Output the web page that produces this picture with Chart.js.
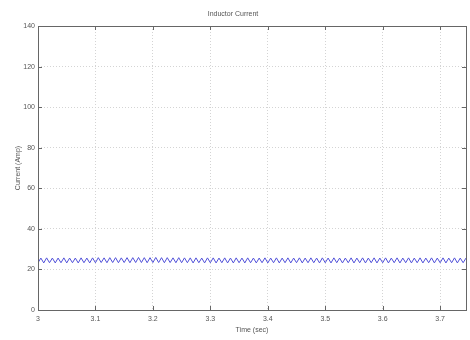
<!DOCTYPE html>
<html>
<head>
<meta charset="utf-8">
<script src="https://cdn.jsdelivr.net/npm/chart.js@4/dist/chart.umd.min.js"></script>
<style>
  html, body { margin: 0; padding: 0; background: #fff; }
  #ctx-current { display: block; }
</style>
</head>
<body>
<canvas id="ctx-current" width="470" height="340"></canvas>
<script>
// time points (sec) of the ripple corners
const times = [
  3.000, 3.005, 3.010, 3.015, 3.020, 3.025, 3.030, 3.035, 3.040, 3.045,
  3.050, 3.055, 3.060, 3.065, 3.070, 3.075, 3.080, 3.085, 3.090, 3.095,
  3.100, 3.105, 3.110, 3.115, 3.120, 3.125, 3.130, 3.135, 3.140, 3.145,
  3.150, 3.155, 3.160, 3.165, 3.170, 3.175, 3.180, 3.185, 3.190, 3.195,
  3.200, 3.205, 3.210, 3.215, 3.220, 3.225, 3.230, 3.235, 3.240, 3.245,
  3.250, 3.255, 3.260, 3.265, 3.270, 3.275, 3.280, 3.285, 3.290, 3.295,
  3.300, 3.305, 3.310, 3.315, 3.320, 3.325, 3.330, 3.335, 3.340, 3.345,
  3.350, 3.355, 3.360, 3.365, 3.370, 3.375, 3.380, 3.385, 3.390, 3.395,
  3.400, 3.405, 3.410, 3.415, 3.420, 3.425, 3.430, 3.435, 3.440, 3.445,
  3.450, 3.455, 3.460, 3.465, 3.470, 3.475, 3.480, 3.485, 3.490, 3.495,
  3.500, 3.505, 3.510, 3.515, 3.520, 3.525, 3.530, 3.535, 3.540, 3.545,
  3.550, 3.555, 3.560, 3.565, 3.570, 3.575, 3.580, 3.585, 3.590, 3.595,
  3.600, 3.605, 3.610, 3.615, 3.620, 3.625, 3.630, 3.635, 3.640, 3.645,
  3.650, 3.655, 3.660, 3.665, 3.670, 3.675, 3.680, 3.685, 3.690, 3.695,
  3.700, 3.705, 3.710, 3.715, 3.720, 3.725, 3.730, 3.735, 3.740, 3.745
];

// inductor current (A)
const current = [
  23.3, 25.6, 23.2, 25.7, 23.3, 25.6, 23.2, 25.6, 23.3, 25.7,
  23.2, 25.6, 23.3, 25.6, 23.2, 25.7, 23.3, 25.6, 23.2, 25.7,
  23.3, 25.8, 23.4, 25.7, 23.3, 25.8, 23.4, 25.8, 23.3, 25.7,
  23.4, 25.8, 23.3, 25.8, 23.4, 25.9, 23.4, 25.8, 23.3, 25.8,
  23.4, 25.9, 23.4, 25.8, 23.3, 25.8, 23.4, 25.7, 23.3, 25.8,
  23.3, 25.7, 23.3, 25.7, 23.2, 25.7, 23.3, 25.6, 23.2, 25.7,
  23.3, 25.7, 23.2, 25.6, 23.3, 25.7, 23.2, 25.6, 23.2, 25.7,
  23.3, 25.6, 23.2, 25.7, 23.3, 25.6, 23.2, 25.6, 23.3, 25.7,
  23.2, 25.6, 23.3, 25.7, 23.2, 25.6, 23.3, 25.7, 23.2, 25.6,
  23.3, 25.7, 23.2, 25.6, 23.3, 25.7, 23.3, 25.6, 23.2, 25.7,
  23.3, 25.6, 23.2, 25.7, 23.3, 25.6, 23.2, 25.6, 23.3, 25.7,
  23.2, 25.6, 23.3, 25.7, 23.2, 25.6, 23.3, 25.7, 23.2, 25.6,
  23.3, 25.7, 23.2, 25.6, 23.3, 25.7, 23.2, 25.6, 23.3, 25.7,
  23.2, 25.6, 23.3, 25.7, 23.2, 25.6, 23.3, 25.7, 23.2, 25.6,
  23.3, 25.7, 23.2, 25.6, 23.3, 25.7, 23.2, 25.6, 23.3, 25.6
];

const xTicks = [3, 3.1, 3.2, 3.3, 3.4, 3.5, 3.6, 3.7];
const yTicks = [0, 20, 40, 60, 80, 100, 120, 140];

const fontSpec = { family: 'Liberation Sans, Arial, sans-serif', size: 7, weight: 'normal' };
const textColor = '#555';

// matlab style box with inward ticks
const boxPlugin = {
    id: 'box',
    afterDraw: (chart) => {
        const ctx = chart.ctx;
        const a = chart.chartArea;
        const xs = chart.scales.x;
        const ys = chart.scales.y;
        ctx.save();
        ctx.strokeStyle = '#666';
        ctx.lineWidth = 1;
        ctx.strokeRect(Math.round(a.left) + 0.5, Math.round(a.top) + 0.5,
            Math.round(a.right - a.left), Math.round(a.bottom - a.top));
        ctx.beginPath();
        xTicks.forEach((v) => {
            const px = Math.round(xs.getPixelForValue(v)) + 0.5;
            ctx.moveTo(px, a.bottom); ctx.lineTo(px, a.bottom - 4);
            ctx.moveTo(px, a.top); ctx.lineTo(px, a.top + 4);
        });
        yTicks.forEach((v) => {
            const py = Math.round(ys.getPixelForValue(v)) + 0.5;
            ctx.moveTo(a.left, py); ctx.lineTo(a.left + 4, py);
            ctx.moveTo(a.right, py); ctx.lineTo(a.right - 4, py);
        });
        ctx.stroke();
        ctx.restore();
    }
};

const ctx = document.getElementById('ctx-current');

new Chart(ctx, {
    type: 'line',
    data: {
        datasets: [{
            label: 'Inductor Current',
            data: times.map((t, i) => ({ x: t, y: current[i] })),
            borderColor: '#5050d8',
            borderWidth: 1,
            pointRadius: 0,
            tension: 0
        }]
    },
    options: {
        responsive: false,
        animation: false,
        events: [],
        layout: { padding: { top: 0, right: 4, left: 0, bottom: 0 } },
        plugins: {
            legend: { display: false },
            tooltip: { enabled: false },
            title: {
                display: true,
                text: 'Inductor Current',
                color: textColor,
                font: fontSpec,
                padding: { top: 10, bottom: 7.6 }
            }
        },
        scales: {
            x: {
                type: 'linear',
                min: 3,
                max: 3.745,
                afterBuildTicks: (scale) => {
                    scale.ticks = xTicks.map(v => ({ value: v }));
                },
                afterFit: (scale) => { scale.height = 30; },
                ticks: {
                    color: textColor,
                    font: fontSpec,
                    padding: 5,
                    maxRotation: 0,
                    callback: (v) => String(v)
                },
                grid: { color: '#d4d4d4', drawTicks: false },
                border: { display: false, dash: [1, 2] },
                title: {
                    display: true,
                    text: 'Time (sec)',
                    color: textColor,
                    font: fontSpec,
                    padding: { top: 0, bottom: 6 }
                }
            },
            y: {
                min: 0,
                max: 140,
                afterBuildTicks: (scale) => {
                    scale.ticks = yTicks.map(v => ({ value: v }));
                },
                afterFit: (scale) => { scale.width = 38; },
                ticks: {
                    color: textColor,
                    font: fontSpec,
                    padding: 3
                },
                grid: { color: '#d4d4d4', drawTicks: false },
                border: { display: false, dash: [1, 2] },
                title: {
                    display: true,
                    text: 'Current (Amp)',
                    color: textColor,
                    font: fontSpec,
                    padding: { top: 14, bottom: 4 }
                }
            }
        }
    },
    plugins: [boxPlugin]
});
</script>
</body>
</html>
